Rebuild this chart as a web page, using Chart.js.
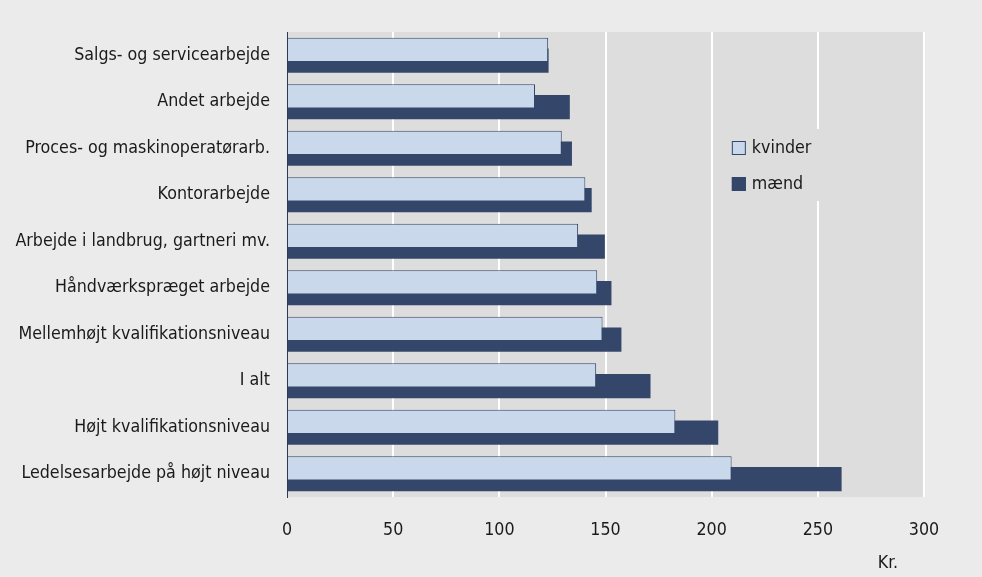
<!DOCTYPE html>
<html>
<head>
<meta charset="utf-8">
<script src="https://cdn.jsdelivr.net/npm/chart.js@4.4.1/dist/chart.umd.min.js"></script>
<style>
html,body{margin:0;padding:0;background:#ebebeb;}
#wrap{width:982px;height:577px;position:relative;}
</style>
</head>
<body>
<div id="wrap"><canvas id="c" width="982" height="577"></canvas></div>
<script>
const categories = [
  "Salgs- og servicearbejde",
  "Andet arbejde",
  "Proces- og maskinoperatørarb.",
  "Kontorarbejde",
  "Arbejde i landbrug, gartneri mv.",
  "Håndværkspræget arbejde",
  "Mellemhøjt kvalifikationsniveau",
  "I alt",
  "Højt kvalifikationsniveau",
  "Ledelsesarbejde på højt niveau"
];
const kvinder = [123.0, 116.8, 129.4, 140.5, 137.1, 146.1, 148.6, 145.6, 182.9, 209.4];
const maend   = [123.2, 133.2, 134.2, 143.5, 149.7, 152.8, 157.5, 171.2, 203.1, 261.2];
const seriesNames = ["kvinder", "mænd"];
const xTicks = [0, 50, 100, 150, 200, 250, 300];
const unitLabel = "Kr.";

const FONT = "'DejaVu Sans Condensed', 'DejaVu Sans', sans-serif";
const FS = 17.7;
const LIGHT = '#c9d8ea';
const DARK = '#34476a';

const bgPlugin = {
  id: 'bgPlugin',
  beforeDraw(chart) {
    const {ctx, chartArea: a} = chart;
    ctx.save();
    ctx.fillStyle = '#ebebeb';
    ctx.fillRect(0, 0, chart.width, chart.height);
    ctx.fillStyle = '#dddddd';
    ctx.fillRect(a.left, a.top, a.right - a.left, a.bottom - a.top);
    ctx.restore();
  },
  afterDraw(chart) {
    const {ctx, chartArea: a} = chart;
    const xs = chart.scales.x;
    ctx.save();
    // legend box
    const lx = xs.getPixelForValue(209.5), ly = a.top + 97;
    ctx.fillStyle = '#dddddd';
    ctx.fillRect(lx - 8, ly, 98, 72);
    ctx.font = FS + 'px ' + FONT;
    ctx.textBaseline = 'middle';
    chart.data.datasets.forEach((ds, i) => {
      const y = ly + 12 + i * 36;
      ctx.fillStyle = ds.backgroundColor;
      ctx.fillRect(lx, y, 14, 14);
      ctx.strokeStyle = DARK;
      ctx.lineWidth = 1;
      ctx.strokeRect(lx + 0.5, y + 0.5, 13, 13);
      ctx.fillStyle = '#1a1a1a';
      ctx.fillText(ds.label, lx + 20, y + 7);
    });
    // unit label
    ctx.textAlign = 'center';
    ctx.fillText(unitLabel, xs.getPixelForValue(283), chart.height - 14);
    ctx.restore();
  }
};

new Chart(document.getElementById('c'), {
  type: 'bar',
  data: {
    labels: categories,
    datasets: [
      { label: seriesNames[0], data: kvinder, backgroundColor: LIGHT, borderColor: DARK, borderWidth: 1,
        categoryPercentage: 0.461, barPercentage: 2.27 },
      { label: seriesNames[1], data: maend, backgroundColor: DARK, borderColor: DARK, borderWidth: 0,
        categoryPercentage: 0.461, barPercentage: 2.27 }
    ]
  },
  options: {
    indexAxis: 'y',
    responsive: false,
    animation: false,
    devicePixelRatio: 1,
    layout: { padding: { top: 32, right: 58, bottom: 0, left: 0 } },
    plugins: { legend: { display: false }, tooltip: { enabled: false } },
    scales: {
      x: {
        min: 0, max: 300,
        afterBuildTicks(scale) { scale.ticks = xTicks.map(v => ({ value: v })); },
        afterFit(scale) { scale.height = 80; },
        ticks: { color: '#1a1a1a', font: { family: FONT, size: FS }, padding: 23 },
        grid: { color: ctx => (ctx.tick && ctx.tick.value === 0) ? 'rgba(0,0,0,0)' : '#ffffff', lineWidth: 2, drawTicks: false },
        border: { display: false }
      },
      y: {
        afterFit(scale) { scale.width = 287; },
        ticks: { color: '#1a1a1a', font: { family: FONT, size: FS }, padding: 17 },
        grid: { display: false, drawTicks: false },
        border: { display: true, color: '#2a3a58', width: 1 }
      }
    }
  },
  plugins: [bgPlugin]
});
</script>
</body>
</html>
